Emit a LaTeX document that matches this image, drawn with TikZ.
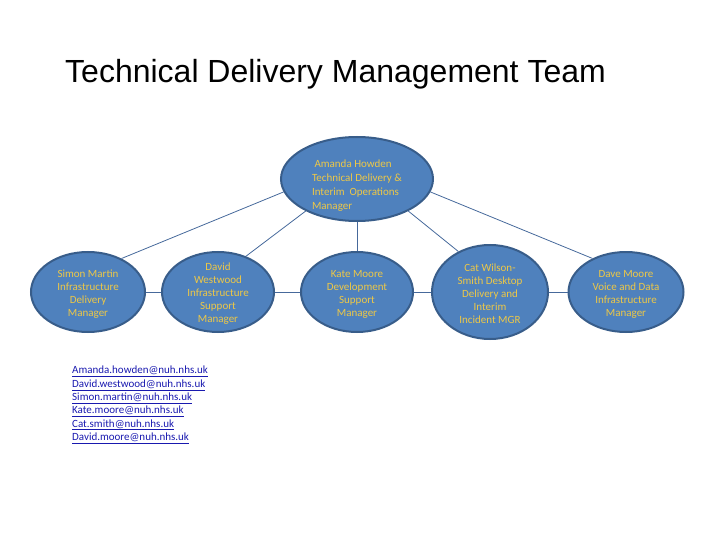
\documentclass[tikz,border=0pt]{standalone}
\usepackage{fontspec}
\setmainfont{Carlito}
\newfontfamily\titlefont{Liberation Sans}
\usetikzlibrary{shapes.geometric}
\definecolor{ellfill}{HTML}{4F81BD}
\definecolor{elldraw}{HTML}{385D8A}
\definecolor{conn}{RGB}{70,105,155}
\definecolor{gold}{RGB}{238,200,70}
\definecolor{maillink}{RGB}{25,25,175}
\tikzset{
  person/.style={ellipse, fill=ellfill, draw=elldraw, line width=2pt, inner sep=0pt},
  persontext/.style={inner sep=0pt, text=gold, align=center,
    font=\fontsize{11}{13}\selectfont},
  link/.style={draw=conn, line width=0.8pt},
}
\begin{document}
\begin{tikzpicture}[x=1pt,y=-1pt]
\useasboundingbox (0,0) rectangle (720,540);
\node[anchor=base west, inner sep=0pt, font=\titlefont\fontsize{32}{36}\selectfont] (title) at (65,83) {Technical Delivery Management Team};

\node[person, minimum width=152pt, minimum height=84pt] (top) at (357,179) {};
\node[person, minimum width=114pt, minimum height=80pt] (simon) at (88,292) {};
\node[person, minimum width=112pt, minimum height=80pt] (david) at (218,292) {};
\node[person, minimum width=112pt, minimum height=80pt] (kate) at (357,292) {};
\node[person, minimum width=116pt, minimum height=94pt] (cat) at (490,292) {};
\node[person, minimum width=115pt, minimum height=80pt] (dave) at (626,292) {};

\node[persontext, align=left, font=\fontsize{11}{14}\selectfont] (topT) at ([yshift=-7pt]top.center)
  {\ Amanda Howden\\Technical Delivery \&\\Interim\ \ Operations\\Manager};
\node[persontext] (simonT) at ([yshift=-2pt]simon.center)
  {Simon Martin\\Infrastructure\\Delivery\\Manager};
\node[persontext] (davidT) at ([yshift=-2pt]david.center)
  {David\\Westwood\\Infrastructure\\Support\\Manager};
\node[persontext] (kateT) at ([yshift=-2pt]kate.center)
  {Kate Moore\\Development\\Support\\Manager};
\node[persontext] (catT) at ([yshift=-2pt]cat.center)
  {Cat Wilson-\\Smith Desktop\\Delivery and\\Interim\\Incident MGR};
\node[persontext] (daveT) at ([yshift=-2pt]dave.center)
  {Dave Moore\\Voice and Data\\Infrastructure\\Manager};

\path[link] (top.190) -- (simon.45);
\path[link] (top.212) -- (david.52);
\path[link] (top.south) -- (kate.north);
\path[link] (top.328) -- (cat.128);
\path[link] (top.350) -- (dave.135);
\path[link] (simon.east) -- (david.west);
\path[link] (david.east) -- (kate.west);
\path[link] (kate.east) -- (cat.west);
\path[link] (cat.east) -- (dave.west);

\node[anchor=north west, inner sep=0pt, align=left, text=maillink, font=\fontsize{11}{13.3}\selectfont] (mails) at (72,366)
  {\underline{Amanda.howden@nuh.nhs.uk}\\
   \underline{David.westwood@nuh.nhs.uk}\\
   \underline{Simon.martin@nuh.nhs.uk}\\
   \underline{Kate.moore@nuh.nhs.uk}\\
   \underline{Cat.smith@nuh.nhs.uk}\\
   \underline{David.moore@nuh.nhs.uk}};
\end{tikzpicture}
\end{document}
